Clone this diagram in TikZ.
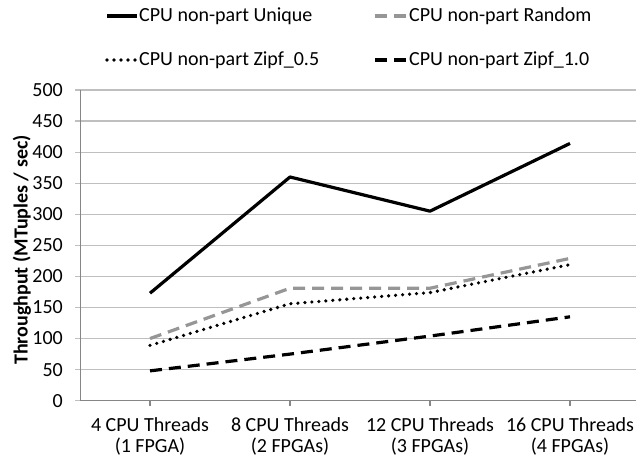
\documentclass[tikz,border=0pt]{standalone}
\usepackage{fontspec}
\setmainfont{Carlito}
\definecolor{gridgray}{RGB}{191,191,191}
\definecolor{axisgray}{RGB}{134,134,134}
\definecolor{randgray}{RGB}{150,150,150}
\tikzset{
lbl/.style={font=\fontsize{20}{22}\selectfont, inner sep=0pt},
ylbl/.style={font=\fontsize{20}{22}\selectfont\bfseries, inner sep=0pt},
unique/.style={line width=3.2pt, line join=round},
random/.style={line width=3.2pt, randgray, dash pattern=on 12pt off 7pt},
zipfa/.style={line width=3.6pt, line cap=round, dash pattern=on 0pt off 7pt},
zipfb/.style={line width=3.2pt, dash pattern=on 12pt off 7pt},
}
\begin{document}
\begin{tikzpicture}[x=1pt,y=1pt]
\useasboundingbox (0,0) rectangle (636,458);

\foreach \v in {0,50,...,500}{
\draw[gridgray, line width=1.2pt] (75,{57.3+0.6214*\v}) -- (636,{57.3+0.6214*\v});
\node[lbl, anchor=east] (t\v) at (63,{57.3+0.6214*\v}) {\v};
}

\coordinate (O) at (80.5,57.3);
\coordinate (T) at (80.5,368);
\coordinate (E) at (636,57.3);
\draw[axisgray, line width=1.2pt] (T)--(O)--(E);

\foreach \k/\a/\b in {1/4 CPU Threads/(1 FPGA),2/8 CPU Threads/(2 FPGAs),
3/12 CPU Threads/(3 FPGAs),4/16 CPU Threads/(4 FPGAs)}{
\draw[axisgray, line width=1.2pt] ({10+140*\k},57.3)--({10+140*\k},52);
\node[lbl] (c\k) at ({10+140*\k},33.5) {\a};
\node[lbl] (f\k) at ({10+140*\k},11.5) {\b};
}

\node[ylbl, rotate=90] (ylab) at (22,208) {Throughput (MTuples / sec)};

\begin{scope}[y=0.6214pt, shift={(0pt,57.3pt)}]
\coordinate (U1) at (150,173);
\coordinate (U2) at (290,360);
\coordinate (U3) at (430,305);
\coordinate (U4) at (570,414);

\coordinate (R1) at (150,100);
\coordinate (R2) at (290,181);
\coordinate (R3) at (430,181);
\coordinate (R4) at (570,229);

\coordinate (Z1) at (150,89);
\coordinate (Z2) at (290,156);
\coordinate (Z3) at (430,174);
\coordinate (Z4) at (570,219);

\coordinate (W1) at (150,48);
\coordinate (W2) at (290,75);
\coordinate (W3) at (430,104);
\coordinate (W4) at (570,135);
\end{scope}

\draw[unique] (U1)--(U2)--(U3)--(U4);
\draw[random] (R1)--(R2)--(R3)--(R4);
\draw[zipfa] (Z1)--(Z2)--(Z3)--(Z4);
\draw[zipfb] (W1)--(W2)--(W3)--(W4);

\coordinate (L1a) at (107,442);
\coordinate (L1b) at (137,442);
\coordinate (L2a) at (375,442);
\coordinate (L2b) at (407,442);
\coordinate (L3a) at (107,398);
\coordinate (L3b) at (137,398);
\coordinate (L4a) at (375,398);
\coordinate (L4b) at (407,398);

\draw[unique] (L1a)--(L1b);
\draw[random] (L2a)--(L2b);
\draw[zipfa] (L3a)--(L3b);
\draw[zipfb] (L4a)--(L4b);

\node[lbl, anchor=west] (k1) at (139,442) {CPU non-part Unique};
\node[lbl, anchor=west] (k2) at (409,442) {CPU non-part Random};
\node[lbl, anchor=west] (k3) at (139,398) {CPU non-part Zipf\_0.5};
\node[lbl, anchor=west] (k4) at (409,398) {CPU non-part Zipf\_1.0};

\end{tikzpicture}
\end{document}
